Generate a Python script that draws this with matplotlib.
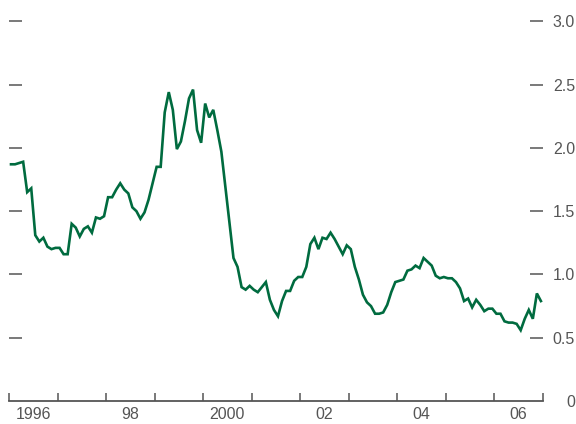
import numpy as np
import matplotlib.pyplot as plt

# monthly values, Jan 1996 - Dec 2006
years = list(range(1996, 2007))
values = [
    1.87, 1.87, 1.88, 1.89, 1.65, 1.68, 1.31, 1.26, 1.29, 1.22, 1.20, 1.21,  # 1996
    1.21, 1.16, 1.16, 1.40, 1.37, 1.30, 1.36, 1.38, 1.33, 1.45, 1.44, 1.46,  # 1997
    1.61, 1.61, 1.67, 1.72, 1.67, 1.64, 1.53, 1.50, 1.44, 1.49, 1.59, 1.72,  # 1998
    1.85, 1.85, 2.28, 2.44, 2.30, 1.99, 2.05, 2.21, 2.39, 2.46, 2.14, 2.04,  # 1999
    2.35, 2.24, 2.30, 2.14, 1.97, 1.69, 1.41, 1.13, 1.06, 0.90, 0.88, 0.91,  # 2000
    0.88, 0.86, 0.90, 0.94, 0.80, 0.72, 0.67, 0.79, 0.87, 0.87, 0.95, 0.98,  # 2001
    0.98, 1.06, 1.24, 1.29, 1.20, 1.29, 1.28, 1.33, 1.28, 1.22, 1.16, 1.23,  # 2002
    1.20, 1.06, 0.96, 0.84, 0.78, 0.75, 0.69, 0.69, 0.70, 0.76, 0.86, 0.94,  # 2003
    0.95, 0.96, 1.03, 1.04, 1.07, 1.05, 1.13, 1.10, 1.07, 0.99, 0.97, 0.98,  # 2004
    0.97, 0.97, 0.94, 0.89, 0.79, 0.81, 0.74, 0.80, 0.76, 0.71, 0.73, 0.73,  # 2005
    0.69, 0.69, 0.63, 0.62, 0.62, 0.61, 0.56, 0.65, 0.72, 0.65, 0.85, 0.79,  # 2006
]
year_labels = ['1996', '', '98', '', '2000', '', '02', '', '04', '', '06']
y_ticks = [0, 0.5, 1.0, 1.5, 2.0, 2.5, 3.0]
y_labels = ['0', '0.5', '1.0', '1.5', '2.0', '2.5', '3.0']

plt.rcParams['font.family'] = ['Liberation Sans', 'DejaVu Sans']
grey = '#555555'

x = np.array([y + (m + 0.5) / 12 for y in years for m in range(12)])

fig = plt.figure(figsize=(5.76, 4.24), dpi=100)
ax = fig.add_axes([0.0156, 0.054, 0.927, 0.896])
ax.plot(x, values, color='#006b3f', linewidth=1.9, solid_joinstyle='miter')

ax.set_xlim(1996, 2007)
ax.set_ylim(0, 3.0)

for s in ['left', 'right', 'top']:
    ax.spines[s].set_visible(False)
ax.spines['bottom'].set_color(grey)
ax.spines['bottom'].set_linewidth(1.3)

# x: year boundary ticks, labels centred in each year
ax.set_xticks(range(1996, 2008))
ax.set_xticklabels([])
ax.tick_params(axis='x', which='major', direction='in', length=6, width=1.1, color=grey)
ax.set_xticks([y + 0.5 for y in years], minor=True)
ax.set_xticklabels(year_labels, minor=True)
ax.tick_params(axis='x', which='minor', length=0, pad=4, labelsize=11.5, labelcolor=grey)

# y: inward ticks both sides, labels on the right
ax.set_yticks(y_ticks)
ax.set_yticklabels(y_labels)
ax.tick_params(axis='y', direction='in', length=9.5, width=1.1, color=grey,
               left=True, right=True, labelleft=False, labelright=True,
               pad=23, labelsize=11.5, labelcolor=grey)
for t in ax.get_yticklabels():
    t.set_horizontalalignment('right')
ax.yaxis.get_major_ticks()[0].tick1line.set_visible(False)
ax.yaxis.get_major_ticks()[0].tick2line.set_visible(False)

fig.savefig('out.png', dpi=100)
